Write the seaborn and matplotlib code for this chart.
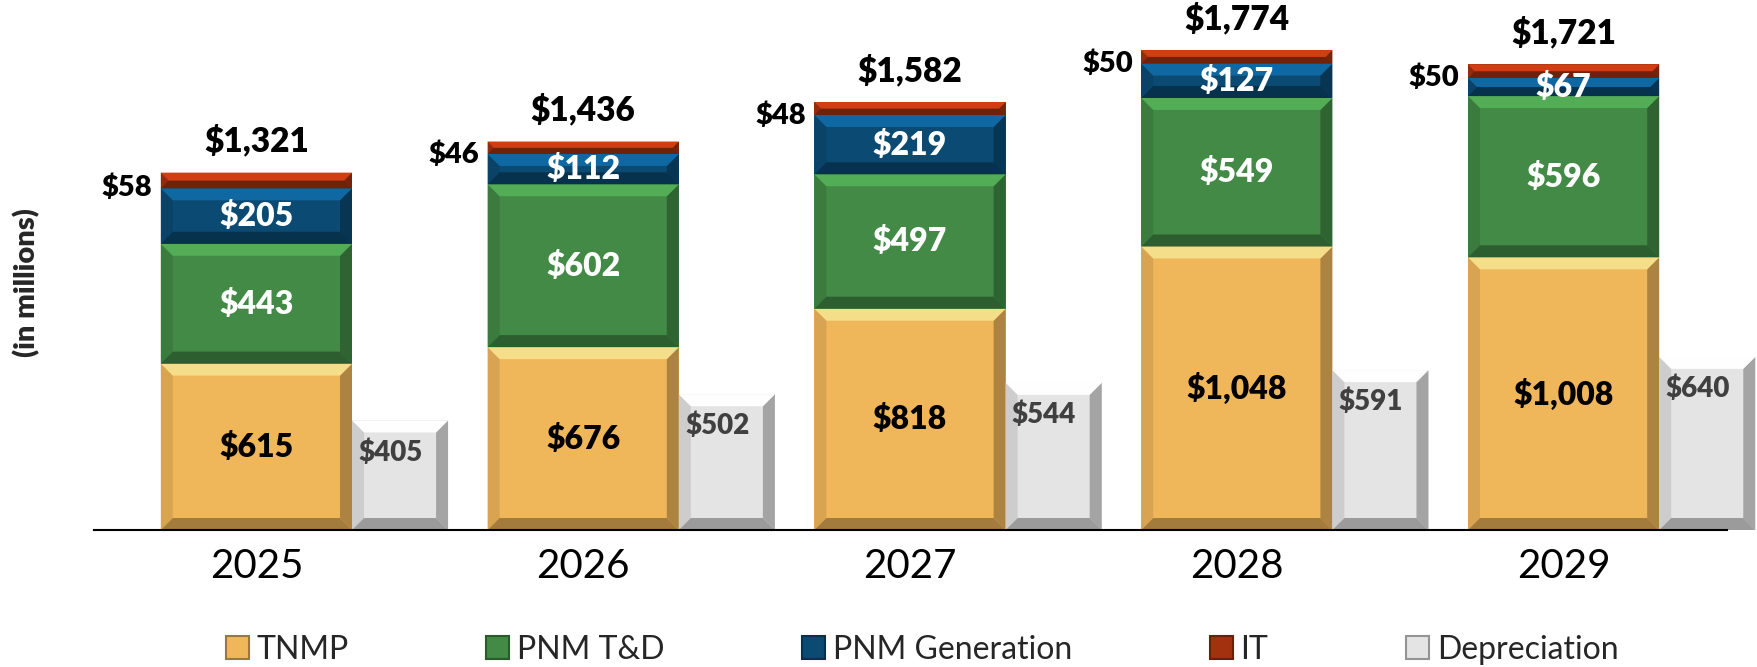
import colorsys
import numpy as np
import pandas as pd
import matplotlib
matplotlib.use("Agg")
import matplotlib.pyplot as plt
import seaborn as sns
from matplotlib.patches import Polygon, Patch
from matplotlib.colors import to_rgb

# data (in millions)
years = ["2025", "2026", "2027", "2028", "2029"]
tnmp = [615, 676, 818, 1048, 1008]
pnm_td = [443, 602, 497, 549, 596]
pnm_gen = [205, 112, 219, 127, 67]
it = [58, 46, 48, 50, 50]
depreciation = [405, 502, 544, 591, 640]

series_names = ["TNMP", "PNM T&D", "PNM Generation", "IT"]
series_vals = [tnmp, pnm_td, pnm_gen, it]
colors = {"TNMP": "#F0B65A", "PNM T&D": "#428A45", "PNM Generation": "#0B4A72",
          "IT": "#A3300F", "Depreciation": "#E4E4E4"}
label_colors = {"TNMP": "black", "PNM T&D": "white", "PNM Generation": "white"}

W_STACK = 0.585
W_DEP = 0.294


def lighten(c, dl, hue_shift=0.0):
    h, l, s = colorsys.rgb_to_hls(*to_rgb(c))
    l = min(l + dl, 1)
    return colorsys.hls_to_rgb((h + hue_shift) % 1, l, s)


def darken(c, t):
    return tuple(np.array(to_rgb(c)) * (1 - t))


def add_bevel(ax, x0, x1, y0, y1, color, b=12, top_shift=0.0):
    (px0, py0) = ax.transData.transform((x0, y0))
    (px1, py1) = ax.transData.transform((x1, y1))
    b = min(b, (py1 - py0) / 2, (px1 - px0) / 2)
    inv = ax.transData.inverted()
    parts = [
        ([(px0, py0), (px0, py1), (px0 + b, py1 - b), (px0 + b, py0 + b)], darken(color, 0.1)),
        ([(px1, py0), (px1, py1), (px1 - b, py1 - b), (px1 - b, py0 + b)], darken(color, 0.28)),
        ([(px0, py0), (px1, py0), (px1 - b, py0 + b), (px0 + b, py0 + b)], darken(color, 0.32)),
        ([(px0, py1), (px1, py1), (px1 - b, py1 - b), (px0 + b, py1 - b)],
         lighten(color, 0.1, top_shift)),
    ]
    for pts, c in parts:
        ax.add_patch(Polygon(inv.transform(pts), closed=True, facecolor=c,
                             edgecolor="none", zorder=3, clip_on=False))


sns.set_style("white")
plt.rcParams['font.family'] = ['Lato', 'DejaVu Sans']
BOLD = "heavy"

pos = np.arange(len(years))
df = pd.DataFrame({"pos": pos, "dep_pos": pos + W_STACK / 2 + W_DEP / 2,
                   "depreciation": depreciation})
cum = np.cumsum(np.array(series_vals), axis=0)
for k, name in enumerate(series_names):
    df[name + "_top"] = cum[k]
    df[name + "_bottom"] = cum[k] - np.array(series_vals[k])

fig = plt.figure(figsize=(17.58, 6.67), dpi=100)
ax = fig.add_axes([94 / 1758, 137 / 667, 1633 / 1758, 514 / 667])

# stacked bars: draw cumulative tops from the top layer down
for name in reversed(series_names):
    sns.barplot(data=df, x="pos", y=name + "_top", native_scale=True, width=W_STACK,
                color=colors[name], saturation=1, linewidth=0, ax=ax, zorder=2)
sns.barplot(data=df, x="dep_pos", y="depreciation", native_scale=True, width=W_DEP,
            color=colors["Depreciation"], saturation=1, linewidth=0, ax=ax, zorder=2)
for p in ax.patches:
    p.set_clip_on(False)

ax.set_xlim(-0.497, 4.50)
ax.set_ylim(0, 1900)

for i in range(len(years)):
    for name in series_names:
        add_bevel(ax, i - W_STACK / 2, i + W_STACK / 2,
                  df[name + "_bottom"][i], df[name + "_top"][i], colors[name],
                  top_shift=0.03 if name == "TNMP" else 0.0)
    dx = df["dep_pos"][i]
    add_bevel(ax, dx - W_DEP / 2, dx + W_DEP / 2, 0, depreciation[i], colors["Depreciation"])

# labels
for i in range(len(years)):
    for name in series_names[:3]:
        b = df[name + "_bottom"][i]
        v = df[name + "_top"][i] - b
        ax.text(i, b + v / 2, f"${v:,}", ha="center", va="center", fontsize=23,
                fontweight=BOLD, color=label_colors[name], zorder=5)
    b = df["IT_bottom"][i]
    ax.annotate(f"${it[i]:,}", xy=(i - W_STACK / 2, b + it[i] / 2), xytext=(-6, -5),
                textcoords="offset points", ha="right", va="center", fontsize=21,
                fontweight=BOLD, color="black", annotation_clip=False)
    total = df["IT_top"][i]
    ax.annotate(f"${total:,}", xy=(i, total), xytext=(0, 15), textcoords="offset points",
                ha="center", va="baseline", fontsize=24, fontweight=BOLD, color="black",
                annotation_clip=False)
    ax.annotate(f"${depreciation[i]:,}", xy=(df["dep_pos"][i], depreciation[i]),
                xytext=(-7, -23), textcoords="offset points", ha="center", va="center",
                fontsize=20, fontweight=BOLD, color="#404040", zorder=5,
                annotation_clip=False)

ax.set_xticks(pos)
ax.set_xticklabels(years)
ax.set_yticks([])
ax.set_xlabel("")
ax.set_ylabel("")
ax.tick_params(axis="x", length=0, pad=13, labelsize=29, colors="black")
for s in ["left", "top", "right"]:
    ax.spines[s].set_visible(False)
ax.spines["bottom"].set_color("black")
ax.spines["bottom"].set_linewidth(1.5)
ax.spines["bottom"].set_zorder(4)

fig.text(27 / 1758, 1 - 283 / 667, "(in millions)", rotation=90, ha="center",
         va="center", fontsize=21, fontweight=BOLD)

legend_names = series_names + ["Depreciation"]
handles = [Patch(facecolor=colors[n], edgecolor=darken(colors[n], 0.35), linewidth=1.5)
           for n in legend_names]
fig.legend(handles, legend_names, loc="center", bbox_to_anchor=(922 / 1758, 1 - 650 / 667),
           ncol=5, frameon=False, fontsize=23, handlelength=0.72, handleheight=0.72,
           handletextpad=0.25, columnspacing=4.3)

fig.savefig("out.png", dpi=100)
